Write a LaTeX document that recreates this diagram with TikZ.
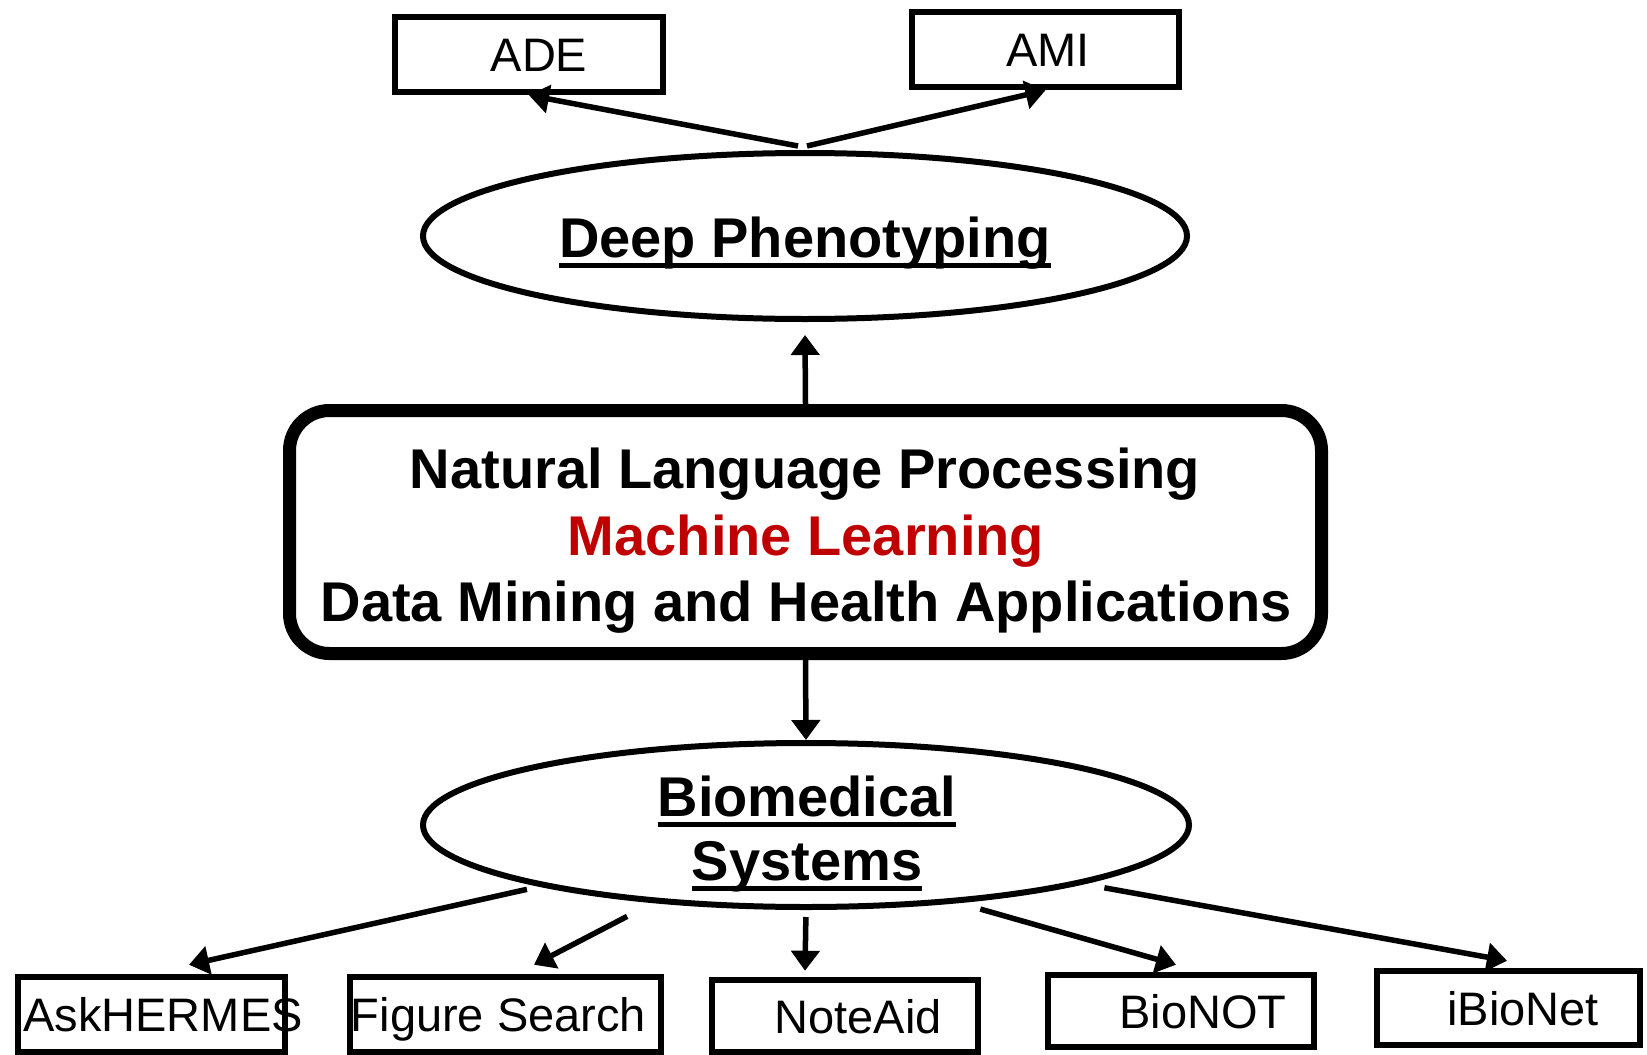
\documentclass[tikz,border=0pt]{standalone}
\usepackage{fontspec}
\setmainfont{Liberation Sans}
\usetikzlibrary{shapes.geometric,arrows.meta,calc}
\definecolor{mlred}{HTML}{C00000}
\newcommand\ulx[1]{\setbox0=\hbox{#1}\rlap{\rule[-11pt]{\wd0}{5pt}}\box0}
\newcommand\offx[2]{\makebox[0pt]{\kern#1pt #2}}
\tikzset{
  sbox/.style={draw, rectangle, line width=6.5pt, inner sep=0pt, text height=34pt, text depth=0pt,
               font=\fontsize{47}{56}\selectfont},
  oval/.style={draw, ellipse, line width=6pt, inner sep=0pt},
  corebox/.style={draw, rectangle, rounded corners=40pt, line width=13pt, inner sep=0pt},
  big/.style={inner sep=0pt, anchor=base, font=\fontsize{56}{67}\selectfont\bfseries},
  arr/.style={line width=5.5pt, -{Triangle[length=20pt,width=28pt]}},
}
\begin{document}
\begin{tikzpicture}[x=1pt,y=-1pt]
\useasboundingbox[fill=white] (0,0) rectangle (1647,1055);
% top boxes
\node[sbox, minimum width=268pt, minimum height=75pt] (ade) at (529,54.5) {\offx{20}{ADE}};
\node[sbox, minimum width=267pt, minimum height=75pt] (ami) at (1045.5,49.5) {\offx{5}{AMI}};
% ellipses
\node[oval, minimum width=764pt, minimum height=166pt] (dp) at (805,236) {};
\node[big] (dpT) at (805,257) {\ulx{Deep Phenotyping}};
\node[oval, minimum width=766pt, minimum height=164pt] (bs) at (806,825) {};
\node[big] (bsT1) at (807,816) {\ulx{Biomedical}};
\node[big] (bsT2) at (807,880) {\ulx{Systems}};
% core box
\node[corebox, minimum width=1032pt, minimum height=243pt] (core) at (805.5,532) {};
\node[big] (nlp) at (805,488) {Natural Language Processing};
\node[big, text=mlred] (ml) at (806,555) {Machine Learning};
\node[big] (dm) at (806,621) {Data Mining and Health Applications};
% bottom boxes
\node[sbox, minimum width=267pt, minimum height=75pt] (ah) at (151.5,1014.5) {\offx{23}{AskHERMES}};
\node[sbox, minimum width=311pt, minimum height=75pt] (fs) at (505.5,1014.5) {\offx{-14}{Figure Search}};
\node[sbox, minimum width=266pt, minimum height=72pt] (na) at (845,1016) {\offx{26}{NoteAid}};
\node[sbox, minimum width=266pt, minimum height=72pt] (bn) at (1181,1011) {\offx{44}{BioNOT}};
\node[sbox, minimum width=263pt, minimum height=74pt] (ib) at (1508.5,1008) {\offx{29}{iBioNet}};
% connectors
\draw[arr] ($(dp.north)+(-7,-4)$) -- (ade.south);
\draw[arr] ($(dp.north)+(2,-4)$) -- (ami.south);
\draw[arr] (core.north) -- ($(dp.south)+(0,13)$);
\draw[arr] (core.south) -- (bs.north);
\draw[arr, shorten <=13pt] (bs.193.5) -- ($(ah.north)+(37.5,-9)$);
\draw[arr, shorten <=29pt] (bs.207) -- ($(fs.north)+(28.5,-9)$);
\draw[arr, shorten <=7pt] (bs.south) -- ($(na.north)+(-40,-6)$);
\draw[arr, shorten <=22pt] (bs.333) -- ($(bn.north)+(-5,-7)$);
\draw[arr, shorten <=21pt] (bs.348.4) -- ($(ib.north)+(-1.5,-7)$);
\end{tikzpicture}
\end{document}
